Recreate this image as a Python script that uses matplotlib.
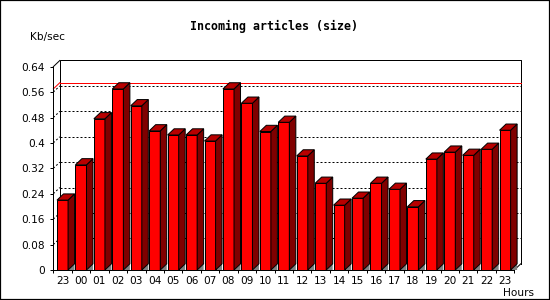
# Incoming articles (size) - 3D style bar chart
import numpy as np
import matplotlib.pyplot as plt
from matplotlib.patches import Polygon, Rectangle

hours = ['23', '00', '01', '02', '03', '04', '05', '06', '07', '08', '09', '10',
         '11', '12', '13', '14', '15', '16', '17', '18', '19', '20', '21', '22', '23']
values = [0.220, 0.331, 0.476, 0.570, 0.517, 0.438, 0.425, 0.425, 0.406, 0.570,
          0.525, 0.436, 0.465, 0.359, 0.273, 0.204, 0.226, 0.273, 0.254, 0.199,
          0.349, 0.371, 0.361, 0.380, 0.440]
yticks = [0, 0.08, 0.16, 0.24, 0.32, 0.4, 0.48, 0.56, 0.64]
ytick_labels = ['0', '0.08', '0.16', '0.24', '0.32', '0.4', '0.48', '0.56', '0.64']

W, H = 550, 300
fig = plt.figure(figsize=(W / 100, H / 100), dpi=100)
fig.patch.set_facecolor('white')

# front plane of the plot, in pixels
x0, x1 = 53.3, 514.3
y0, y1 = 270, 66.7
ax = fig.add_axes([x0 / W, 1 - y0 / H, (x1 - x0) / W, (y0 - y1) / H])
n = len(values)
ymax = 0.64
ax.set_xlim(0, n)
ax.set_ylim(0, ymax)
ax.patch.set_alpha(0)

# 3D depth, in data units
dx = 6.5 / ((x1 - x0) / n)
dy = 6.2 / ((y0 - y1) / ymax)

lw = 0.72
ax.spines['top'].set_visible(False)
ax.spines['right'].set_visible(False)
ax.spines['left'].set_linewidth(lw)
ax.spines['bottom'].set_linewidth(lw)

# back plane edges
ax.plot([dx, dx, n + dx, n + dx], [dy, ymax + dy, ymax + dy, dy], color='black',
        lw=lw, clip_on=False, zorder=1)
ax.plot([0, dx], [ymax, ymax + dy], color='black', lw=lw, clip_on=False, zorder=1)
ax.plot([n, n + dx], [0, dy], color='black', lw=lw, clip_on=False, zorder=1)

# dotted grid on back plane and left wall
for v in yticks[1:-1]:
    ax.plot([dx, n + dx], [v + dy, v + dy], color='black', lw=lw,
            linestyle=(0, (2, 2)), clip_on=False, zorder=1)
    ax.plot([0, dx], [v, v + dy], color='black', lw=lw,
            linestyle=(0, (2, 2)), clip_on=False, zorder=1)

# red max line
vmax = max(values)
ax.plot([dx, n + dx], [vmax + dy, vmax + dy], color='red', lw=lw, clip_on=False, zorder=1)
ax.plot([0, dx], [vmax, vmax + dy], color='red', lw=lw, clip_on=False, zorder=1)

# bars
xs = np.arange(n) + 0.5
bw = 0.6
ax.bar(xs, values, width=bw, color='#ff0000', edgecolor='black', linewidth=lw, zorder=3)
for xc, v in zip(xs, values):
    xl, xr = xc - bw / 2, xc + bw / 2
    floor = Polygon([[xr, 0], [xr + dx, dy], [xr + dx, 0]], closed=True,
                    facecolor='#808080', edgecolor='none', zorder=2, clip_on=False)
    side = Polygon([[xr, 0], [xr + dx, dy], [xr + dx, v + dy], [xr, v]], closed=True,
                   facecolor='#800000', edgecolor='black', lw=lw, zorder=3, clip_on=False)
    top = Polygon([[xl, v], [xl + dx, v + dy], [xr + dx, v + dy], [xr, v]], closed=True,
                  facecolor='#b80000', edgecolor='black', lw=lw, zorder=3, clip_on=False)
    ax.add_patch(floor)
    ax.add_patch(side)
    ax.add_patch(top)

# ticks
ax.set_yticks(yticks, labels=ytick_labels)
ax.tick_params(axis='y', direction='out', length=2.2, width=lw, pad=4.0, labelsize=7.6)
ax.set_xticks(xs, labels=hours)
ax.set_xticks(np.arange(n + 1), minor=True)
ax.tick_params(axis='x', which='major', length=0, pad=4.6, labelsize=7.6)
ax.tick_params(axis='x', which='minor', direction='out', length=2.4, width=lw)

fig.text(274 / W, 1 - 26.7 / H, 'Incoming articles (size)', ha='center', va='center',
         family='DejaVu Sans Mono', weight='bold', fontsize=8.4)
fig.text(30 / W, 1 - 36.7 / H, 'Kb/sec', ha='left', va='center', fontsize=7.6)
fig.text(534 / W, 1 - 292.7 / H, 'Hours', ha='right', va='center', fontsize=7.6)

# outer frame
fig.add_artist(Rectangle((0, 0), 1, 1, transform=fig.transFigure, fill=False,
                         edgecolor='black', lw=1.6))

fig.savefig('out.png', dpi=100)
